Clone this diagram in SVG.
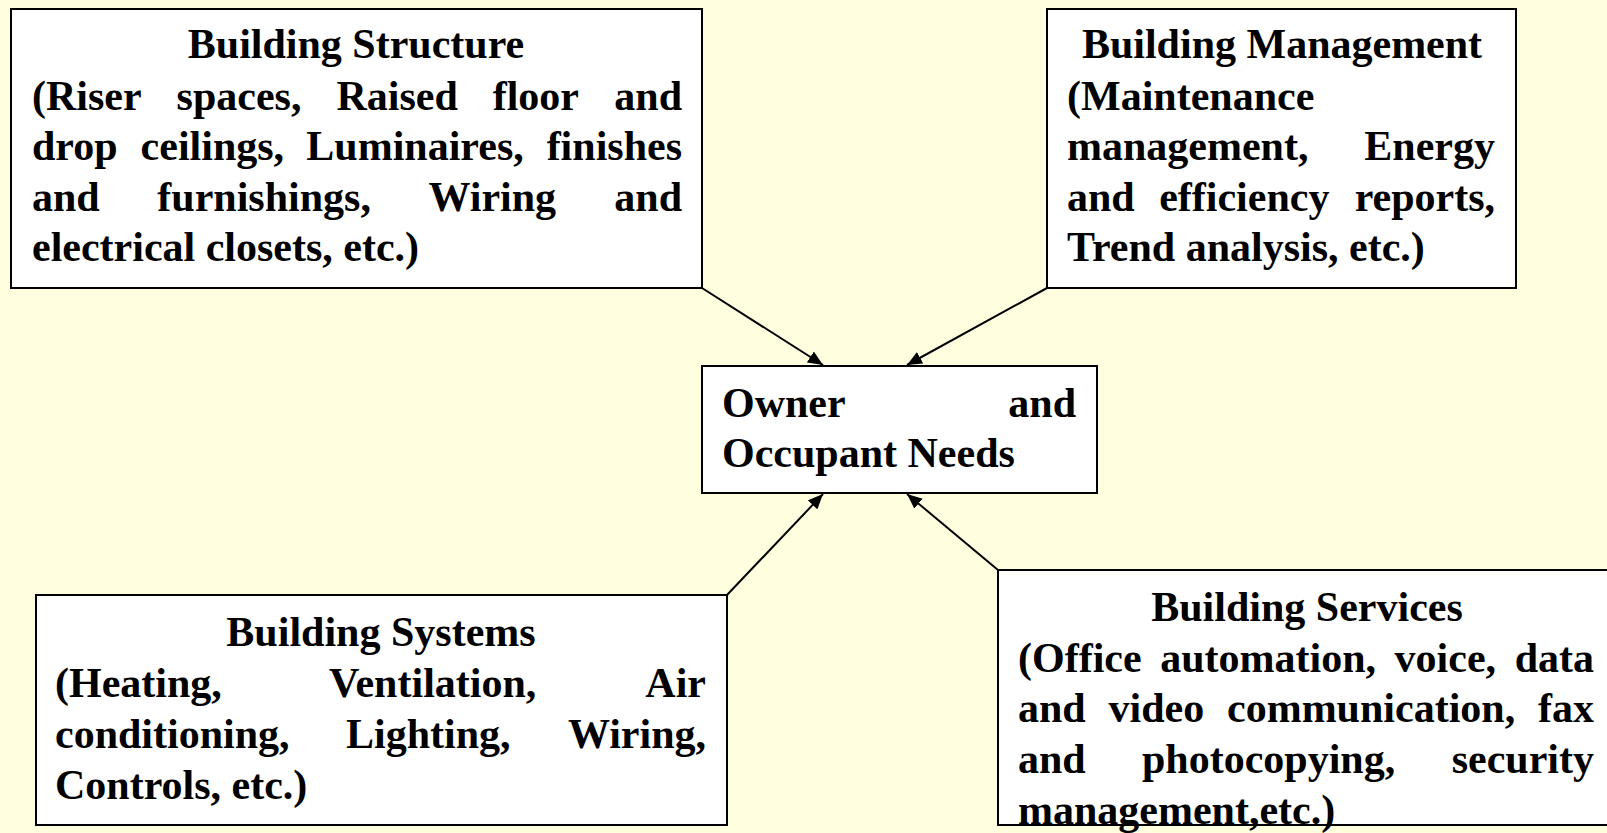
<svg xmlns="http://www.w3.org/2000/svg" width="1607" height="833" viewBox="0 0 1607 833">
<style>
.box{fill:#ffffff;stroke:#000000;stroke-width:2}
.t{font-family:"Liberation Serif","Times New Roman",serif;font-weight:bold;font-size:42px;fill:#000000}
.e{text-anchor:end}
.m{text-anchor:middle}
.conn{stroke:#000000;stroke-width:2;fill:none;marker-end:url(#arr)}
</style>
<defs>
<marker id="arr" markerWidth="15" markerHeight="13" refX="15" refY="6.5" orient="auto" markerUnits="userSpaceOnUse">
<path d="M0,0 L15,6.5 L0,13 z" fill="#000000"/>
</marker>
</defs>
<rect x="0" y="0" width="1607" height="833" fill="#FFFFE0"/>
<g id="connectors">
<line class="conn" x1="702" y1="288" x2="823" y2="365"/>
<line class="conn" x1="1047" y1="288" x2="907" y2="365"/>
<line class="conn" x1="727" y1="595" x2="823" y2="494"/>
<line class="conn" x1="998" y1="570" x2="907" y2="494"/>
</g>
<g id="structure">
<rect class="box" x="11" y="9" width="691" height="279"/>
<text class="t m" x="356" y="58">Building Structure</text>
<text class="t" x="32" y="110">(Riser</text>
<text class="t" x="176.6" y="110">spaces,</text>
<text class="t" x="336.4" y="110">Raised</text>
<text class="t" x="492.7" y="110">floor</text>
<text class="t e" x="682" y="110">and</text>
<text class="t" x="32" y="160">drop</text>
<text class="t" x="140.6" y="160">ceilings,</text>
<text class="t" x="306.3" y="160">Luminaires,</text>
<text class="t e" x="682" y="160">finishes</text>
<text class="t" x="32" y="211">and</text>
<text class="t" x="157.3" y="211">furnishings,</text>
<text class="t" x="428.5" y="211">Wiring</text>
<text class="t e" x="682" y="211">and</text>
<text class="t" x="32" y="261">electrical closets, etc.)</text>
</g>
<g id="management">
<rect class="box" x="1047" y="9" width="469" height="279"/>
<text class="t m" x="1282" y="58">Building Management</text>
<text class="t" x="1067" y="110">(Maintenance</text>
<text class="t" x="1067" y="160">management,</text>
<text class="t e" x="1495" y="160">Energy</text>
<text class="t" x="1067" y="211">and</text>
<text class="t" x="1159.2" y="211">efficiency</text>
<text class="t e" x="1495" y="211">reports,</text>
<text class="t" x="1067" y="261">Trend analysis, etc.)</text>
</g>
<g id="needs">
<rect class="box" x="702" y="366" width="395" height="127"/>
<text class="t" x="722" y="417">Owner</text>
<text class="t e" x="1076" y="417">and</text>
<text class="t" x="722" y="467">Occupant Needs</text>
</g>
<g id="systems">
<rect class="box" x="36" y="595" width="691" height="230"/>
<text class="t m" x="381" y="646">Building Systems</text>
<text class="t" x="55" y="697">(Heating,</text>
<text class="t" x="329" y="697">Ventilation,</text>
<text class="t e" x="706" y="697">Air</text>
<text class="t" x="55" y="748">conditioning,</text>
<text class="t" x="346" y="748">Lighting,</text>
<text class="t e" x="706" y="748">Wiring,</text>
<text class="t" x="55" y="799">Controls, etc.)</text>
</g>
<g id="services">
<rect class="box" x="998" y="570" width="618" height="255"/>
<text class="t m" x="1307" y="621">Building Services</text>
<text class="t" x="1018" y="672">(Office</text>
<text class="t" x="1160.2" y="672">automation,</text>
<text class="t" x="1394.6" y="672">voice,</text>
<text class="t e" x="1594" y="672">data</text>
<text class="t" x="1018" y="722">and</text>
<text class="t" x="1108.5" y="722">video</text>
<text class="t" x="1227" y="722">communication,</text>
<text class="t e" x="1594" y="722">fax</text>
<text class="t" x="1018" y="773">and</text>
<text class="t" x="1142" y="773">photocopying,</text>
<text class="t e" x="1594" y="773">security</text>
<text class="t" x="1018" y="824">management,etc.)</text>
</g>
</svg>
